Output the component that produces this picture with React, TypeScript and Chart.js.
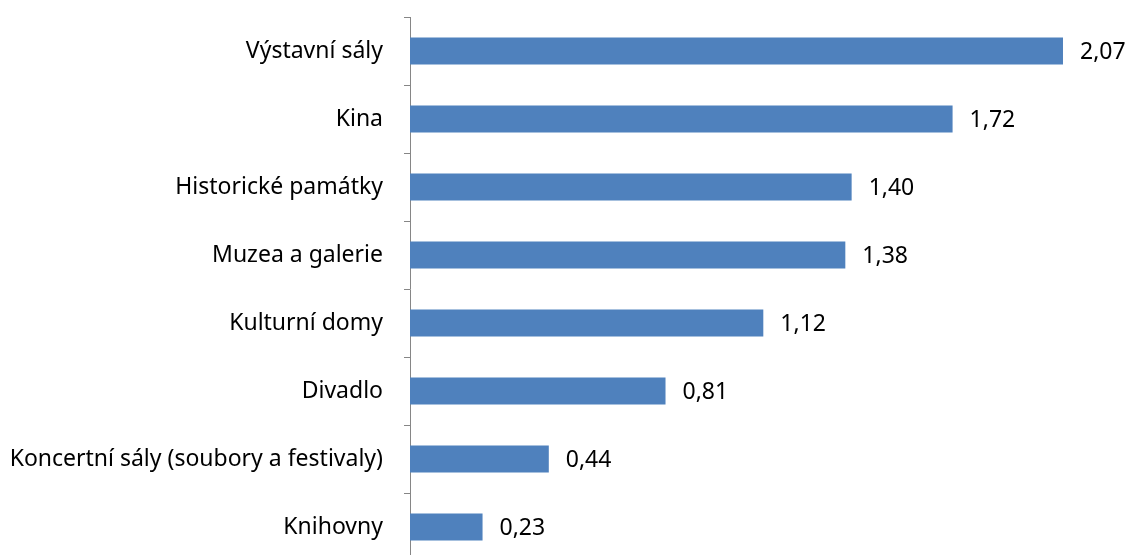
import React, { useEffect, useRef } from "react";
import { Chart, registerables } from "chart.js";

Chart.register(...registerables);

const categories = [
  "Výstavní sály",
  "Kina",
  "Historické památky",
  "Muzea a galerie",
  "Kulturní domy",
  "Divadlo",
  "Koncertní sály (soubory a festivaly)",
  "Knihovny",
];
const values = [2.07, 1.72, 1.4, 1.38, 1.12, 0.81, 0.44, 0.23];
const valueLabels = ["2,07", "1,72", "1,40", "1,38", "1,12", "0,81", "0,44", "0,23"];

const FONT = "'Noto Sans', sans-serif";
const FONT_SIZE = 23;

const valueLabelPlugin = {
  id: "valueLabels",
  afterDatasetsDraw(chart: any) {
    const ctx = chart.ctx;
    const meta = chart.getDatasetMeta(0);
    ctx.save();
    ctx.font = `${FONT_SIZE}px ${FONT}`;
    ctx.fillStyle = "#000000";
    ctx.textAlign = "left";
    ctx.textBaseline = "middle";
    meta.data.forEach((bar: any, i: number) => {
      ctx.fillText(valueLabels[i], bar.x + 17, bar.y + 1);
    });
    ctx.restore();
  },
};

export default function App() {
  const ref = useRef<HTMLCanvasElement>(null);
  useEffect(() => {
    if (!ref.current) return;
    const chart = new Chart(ref.current, {
      type: "bar",
      data: {
        labels: categories,
        datasets: [
          {
            data: values,
            backgroundColor: "#4F81BD",
            borderWidth: 0,
            categoryPercentage: 1,
            barPercentage: 0.4,
          },
        ],
      },
      options: {
        indexAxis: "y",
        animation: false,
        responsive: true,
        maintainAspectRatio: false,
        layout: { padding: { top: 17, right: 24, bottom: 0, left: 0 } },
        plugins: { legend: { display: false }, tooltip: { enabled: false } },
        scales: {
          x: { display: false, min: 0, max: 2.2 },
          y: {
            offset: true,
            grid: {
              display: true,
              drawOnChartArea: false,
              drawTicks: true,
              tickLength: 6,
              offset: true,
              color: "#868686",
              lineWidth: 1,
            },
            border: { display: true, color: "#868686", width: 1 },
            ticks: {
              padding: 21,
              color: "#000000",
              font: { family: FONT, size: FONT_SIZE },
            },
            afterFit(scale: any) {
              scale.width = 410;
              scale.paddingTop = 0;
              scale.paddingBottom = 0;
            },
          },
        },
      },
      plugins: [valueLabelPlugin],
    });
    return () => chart.destroy();
  }, []);
  return (
    <div style={{ position: "fixed", left: 0, top: 0, width: 1128, height: 555, overflow: "hidden", background: "#fff" }}>
      <div style={{ position: "relative", width: 1128, height: 561 }}>
        <canvas ref={ref} />
      </div>
    </div>
  );
}
